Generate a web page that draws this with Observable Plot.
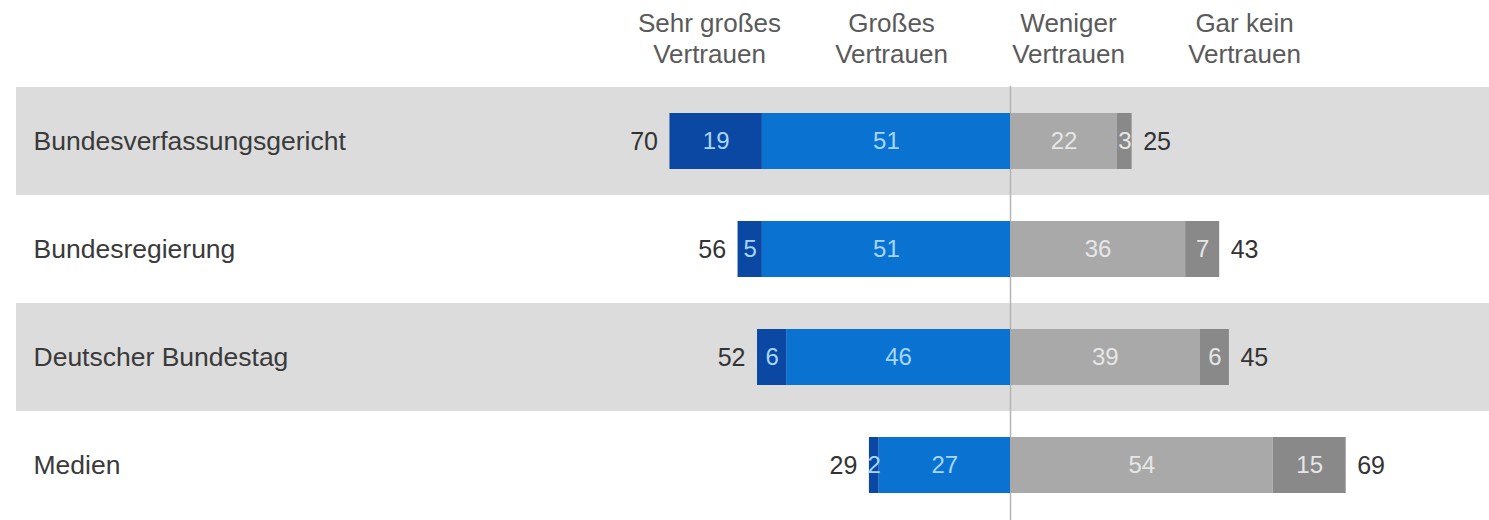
<!DOCTYPE html>
<html>
<head>
<meta charset="utf-8">
<script src="https://cdn.jsdelivr.net/npm/d3@7"></script>
<script src="https://cdn.jsdelivr.net/npm/@observablehq/plot@0.6"></script>
<style>
  html, body { margin: 0; padding: 0; background: #fff; }
  #chart { width: 1489px; height: 520px; overflow: hidden; }
</style>
</head>
<body>
<div id="chart"></div>
<script>
// ---- data ----
const categories = ["Bundesverfassungsgericht", "Bundesregierung", "Deutscher Bundestag", "Medien"];
const sehrGross = [19, 5, 6, 2];      // Sehr großes Vertrauen
const gross     = [51, 51, 46, 27];   // Großes Vertrauen
const weniger   = [22, 36, 39, 54];   // Weniger Vertrauen
const garKein   = [3, 7, 6, 15];      // Gar kein Vertrauen
const headerLabels = ["Sehr großes\nVertrauen", "Großes\nVertrauen", "Weniger\nVertrauen", "Gar kein\nVertrauen"];

// ---- layout ----
const pxPerUnit = 4.865, zeroPx = 1010, W = 1489, H = 520, ML = 16;
const xMin = -(zeroPx - ML) / pxPerUnit, xMax = (W - zeroPx) / pxPerUnit;
const headerX = [709, 891, 1068, 1244].map(p => (p - zeroPx) / pxPerUnit);
const colors = {sehr: "#0b48a3", gross: "#0a72d0", weniger: "#a9a9a9", kein: "#898989"};

// segments built from data
const segs = [];
categories.forEach((c, i) => {
  segs.push({cat: c, key: "gross", v: gross[i], x1: -gross[i], x2: 0});
  segs.push({cat: c, key: "sehr", v: sehrGross[i], x1: -gross[i] - sehrGross[i], x2: -gross[i]});
  segs.push({cat: c, key: "weniger", v: weniger[i], x1: 0, x2: weniger[i]});
  segs.push({cat: c, key: "kein", v: garKein[i], x1: weniger[i], x2: weniger[i] + garKein[i]});
});
const totals = categories.map((c, i) => ({cat: c, left: sehrGross[i] + gross[i], right: weniger[i] + garKein[i]}));
const bands = categories.filter((c, i) => i % 2 === 0);

const chart = Plot.plot({
  width: W, height: H,
  marginTop: 86, marginBottom: 0, marginLeft: ML, marginRight: 0,
  x: {domain: [xMin, xMax], axis: null},
  y: {domain: categories, axis: null, padding: 0},
  style: {fontFamily: "'Liberation Sans', Arial, sans-serif", background: "#fff"},
  marks: [
    Plot.barX(bands, {y: d => d, x1: xMin, x2: xMax, fill: "#dcdcdc"}),
    Plot.ruleX([0], {stroke: "#b5b5b5", strokeWidth: 1.5}),
    Plot.barX(segs, {y: "cat", x1: "x1", x2: "x2", fill: d => colors[d.key], insetTop: 26, insetBottom: 26}),
    Plot.text(segs, {y: "cat", x: d => (d.x1 + d.x2) / 2, text: d => String(d.v),
      fill: d => (d.key === "sehr" || d.key === "gross") ? "#a6d6ff" : "#e6e6e6", fontSize: 24}),
    Plot.text(totals, {y: "cat", x: d => -d.left, text: d => String(d.left), textAnchor: "end", dx: -12, fontSize: 25, fill: "#333"}),
    Plot.text(totals, {y: "cat", x: d => d.right, text: d => String(d.right), textAnchor: "start", dx: 11, fontSize: 25, fill: "#333"}),
    Plot.text(categories, {y: d => d, text: d => d, frameAnchor: "left", dx: 17, textAnchor: "start", fontSize: 26.5, fill: "#3a3a3a"}),
    Plot.text(headerLabels, {x: (d, i) => headerX[i], text: d => d, frameAnchor: "top", dy: -49,
      lineAnchor: "middle", lineHeight: 1.18, fontSize: 26, fill: "#5a5a5a"})
  ]
});
document.getElementById("chart").appendChild(chart);
</script>
</body>
</html>
